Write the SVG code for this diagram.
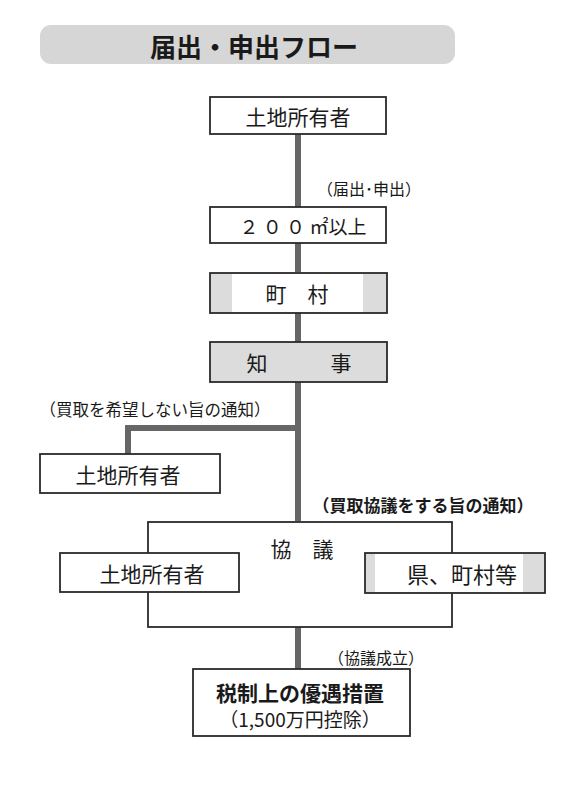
<svg xmlns="http://www.w3.org/2000/svg" width="566" height="800" viewBox="0 0 566 800">
<style>
.box{fill:#fff;stroke:#2a2a2a;stroke-width:1.8}
.gbox{fill:#dcdcdc;stroke:#2a2a2a;stroke-width:1.8}
.t{font-family:"Noto Sans CJK JP","Noto Sans CJK SC",sans-serif;fill:#1a1a1a;text-anchor:middle;dominant-baseline:central}
.n{font-size:21px;font-weight:400}
.s{font-size:16px;font-weight:400}
.b{font-weight:700}
.line{stroke:#666;stroke-width:6;fill:none}
.dbl{fill:#777}
</style>
<rect width="566" height="800" fill="#fff"/>
<g id="title">
<rect x="40" y="25" width="415" height="39" rx="11" fill="#d6d6d6"/>
<text class="t b" x="254" y="45" font-size="26">届出・申出フロー</text>
</g>
<g id="connectors">
<line class="line" x1="298" y1="134" x2="298" y2="207"/>
<line class="line" x1="298" y1="243" x2="298" y2="272"/>
<line class="line" x1="298" y1="313" x2="298" y2="342"/>
<line class="line" x1="298" y1="382" x2="298" y2="521"/>
<polyline class="line" points="298,428 128,428 128,454"/>
<line class="line" x1="298" y1="627" x2="298" y2="669"/>
<rect class="dbl" x="239" y="565" width="126" height="6"/>
<rect class="dbl" x="239" y="575" width="126" height="6"/>
<text class="t s" x="369" y="188">（届出･申出）</text>
<text class="t" x="155" y="409" font-size="16.5">（買取を希望しない旨の通知）</text>
<text class="t b" x="423" y="504" font-size="17">（買取協議をする旨の通知）</text>
<text class="t s" x="376" y="657">（協議成立）</text>
</g>
<g id="owner1">
<rect class="box" x="210" y="97" width="176" height="37"/>
<text class="t n" x="298" y="116">土地所有者</text>
</g>
<g id="area">
<rect class="box" x="210" y="207" width="176" height="36"/>
<text class="t" x="303" y="225" font-size="19">２ ０ ０ ㎡以上</text>
</g>
<g id="town">
<rect class="gbox" x="210" y="273" width="177" height="40"/>
<rect x="232" y="274" width="131" height="38" fill="#fff"/>
<text class="t n" x="297" y="293">町　村</text>
</g>
<g id="governor">
<rect class="gbox" x="210" y="342" width="177" height="40"/>
<text class="t n" x="299" y="362">知　　　事</text>
</g>
<g id="owner2">
<rect class="box" x="40" y="454" width="180" height="39"/>
<text class="t n" x="128" y="474">土地所有者</text>
</g>
<g id="consult">
<rect class="box" x="148" y="522" width="304" height="105"/>
<text class="t n" x="302" y="548">協　議</text>
</g>
<g id="owner3">
<rect class="box" x="60" y="553" width="179" height="39"/>
<text class="t n" x="152" y="573">土地所有者</text>
</g>
<g id="pref">
<rect class="gbox" x="365" y="553" width="180" height="40"/>
<rect x="375" y="554" width="148" height="38" fill="#fff"/>
<text class="t" x="462" y="573" font-size="22">県、町村等</text>
</g>
<g id="tax">
<rect class="box" x="193" y="669" width="217" height="67"/>
<text class="t b" x="300" y="692" font-size="21">税制上の優遇措置</text>
<text class="t" x="300" y="718" font-size="19">（1,500万円控除）</text>
</g>
</svg>
